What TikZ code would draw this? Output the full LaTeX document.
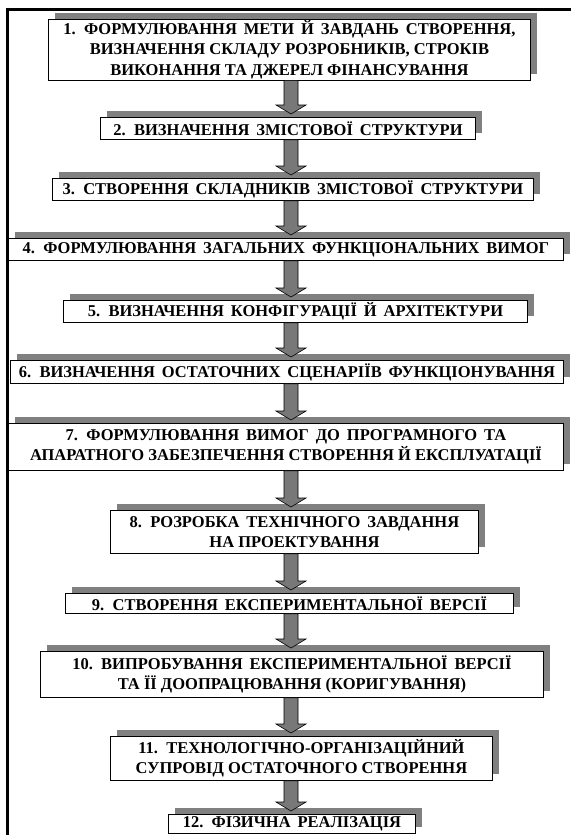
\documentclass[tikz,border=0pt]{standalone}
\usepackage{fontspec}
\setmainfont{Liberation Serif}
\usetikzlibrary{shadows,calc}
\definecolor{shgray}{RGB}{128,128,128}
\definecolor{argray}{RGB}{120,120,120}
\newcommand{\stagefont}{\bfseries\fontsize{16.5}{20.5}\selectfont}
\newcommand{\widespace}{\spaceskip=0.42em plus 0.1em\relax}
\tikzset{
  stage/.style={draw=black, line width=0.9pt, fill=white, anchor=north west,
    inner sep=0pt, align=center, font=\stagefont,
    general shadow={shadow xshift=7pt, shadow yshift=6pt, fill=shgray}},
  flow/.style={fill=argray, draw=black, line width=0.6pt},
}
\newcommand{\bx}[6]{% name, left, top, right, bottom, text
  \node[stage, minimum width=#4pt-#2pt, minimum height=#5pt-#3pt] (#1) at (#2,#3) {\widespace #6};}
\newcommand{\flowarrow}[2]{%
  \path[flow] let \p1=(#1.south), \p2=(#2.north) in
    (284pt,\y1) -- (284pt,\y2+12pt) -- (276pt,\y2+12pt) -- (291pt,\y2+3pt)
    -- (306pt,\y2+12pt) -- (298pt,\y2+12pt) -- (298pt,\y1) -- cycle;}
\begin{document}
\begin{tikzpicture}[x=1pt,y=-1pt]
\useasboundingbox (0,0) rectangle (571,835);
\draw[line width=3pt] (6,9) -- (571,9);
\draw[line width=3pt] (7,7.5) -- (7,835);
\bx{b1}{48}{18.5}{530}{79.5}{1. ФОРМУЛЮВАННЯ МЕТИ Й ЗАВДАНЬ СТВОРЕННЯ,\\ВИЗНАЧЕННЯ СКЛАДУ РОЗРОБНИКІВ, СТРОКІВ\\ВИКОНАННЯ ТА ДЖЕРЕЛ ФІНАНСУВАННЯ}
\bx{b2}{100}{117}{475}{139}{2. ВИЗНАЧЕННЯ ЗМІСТОВОЇ СТРУКТУРИ}
\bx{b3}{52}{178}{533}{200}{3. СТВОРЕННЯ СКЛАДНИКІВ ЗМІСТОВОЇ СТРУКТУРИ}
\bx{b4}{8}{238}{563}{260}{4. ФОРМУЛЮВАННЯ ЗАГАЛЬНИХ ФУНКЦІОНАЛЬНИХ ВИМОГ}
\bx{b5}{63}{300}{527}{322}{5. ВИЗНАЧЕННЯ КОНФІГУРАЦІЇ Й АРХІТЕКТУРИ}
\bx{b6}{10}{360}{563}{383}{6. ВИЗНАЧЕННЯ ОСТАТОЧНИХ СЦЕНАРІЇВ ФУНКЦІОНУВАННЯ}
\bx{b7}{8}{423}{563}{470}{7. ФОРМУЛЮВАННЯ ВИМОГ ДО ПРОГРАМНОГО ТА\\АПАРАТНОГО ЗАБЕЗПЕЧЕННЯ СТВОРЕННЯ Й ЕКСПЛУАТАЦІЇ}
\bx{b8}{110}{510}{478}{553}{8. РОЗРОБКА ТЕХНІЧНОГО ЗАВДАННЯ\\НА ПРОЕКТУВАННЯ}
\bx{b9}{65}{593}{513}{613}{9. СТВОРЕННЯ ЕКСПЕРИМЕНТАЛЬНОЇ ВЕРСІЇ}
\bx{b10}{40}{651}{543}{697}{10. ВИПРОБУВАННЯ ЕКСПЕРИМЕНТАЛЬНОЇ ВЕРСІЇ\\ТА ЇЇ ДООПРАЦЮВАННЯ (КОРИГУВАННЯ)}
\bx{b11}{110}{736}{492}{780}{11. ТЕХНОЛОГІЧНО-ОРГАНІЗАЦІЙНИЙ\\СУПРОВІД ОСТАТОЧНОГО СТВОРЕННЯ}
\bx{b12}{168}{814}{415}{833}{12. ФІЗИЧНА РЕАЛІЗАЦІЯ}
\flowarrow{b1}{b2}
\flowarrow{b2}{b3}
\flowarrow{b3}{b4}
\flowarrow{b4}{b5}
\flowarrow{b5}{b6}
\flowarrow{b6}{b7}
\flowarrow{b7}{b8}
\flowarrow{b8}{b9}
\flowarrow{b9}{b10}
\flowarrow{b10}{b11}
\flowarrow{b11}{b12}
\end{tikzpicture}
\end{document}
